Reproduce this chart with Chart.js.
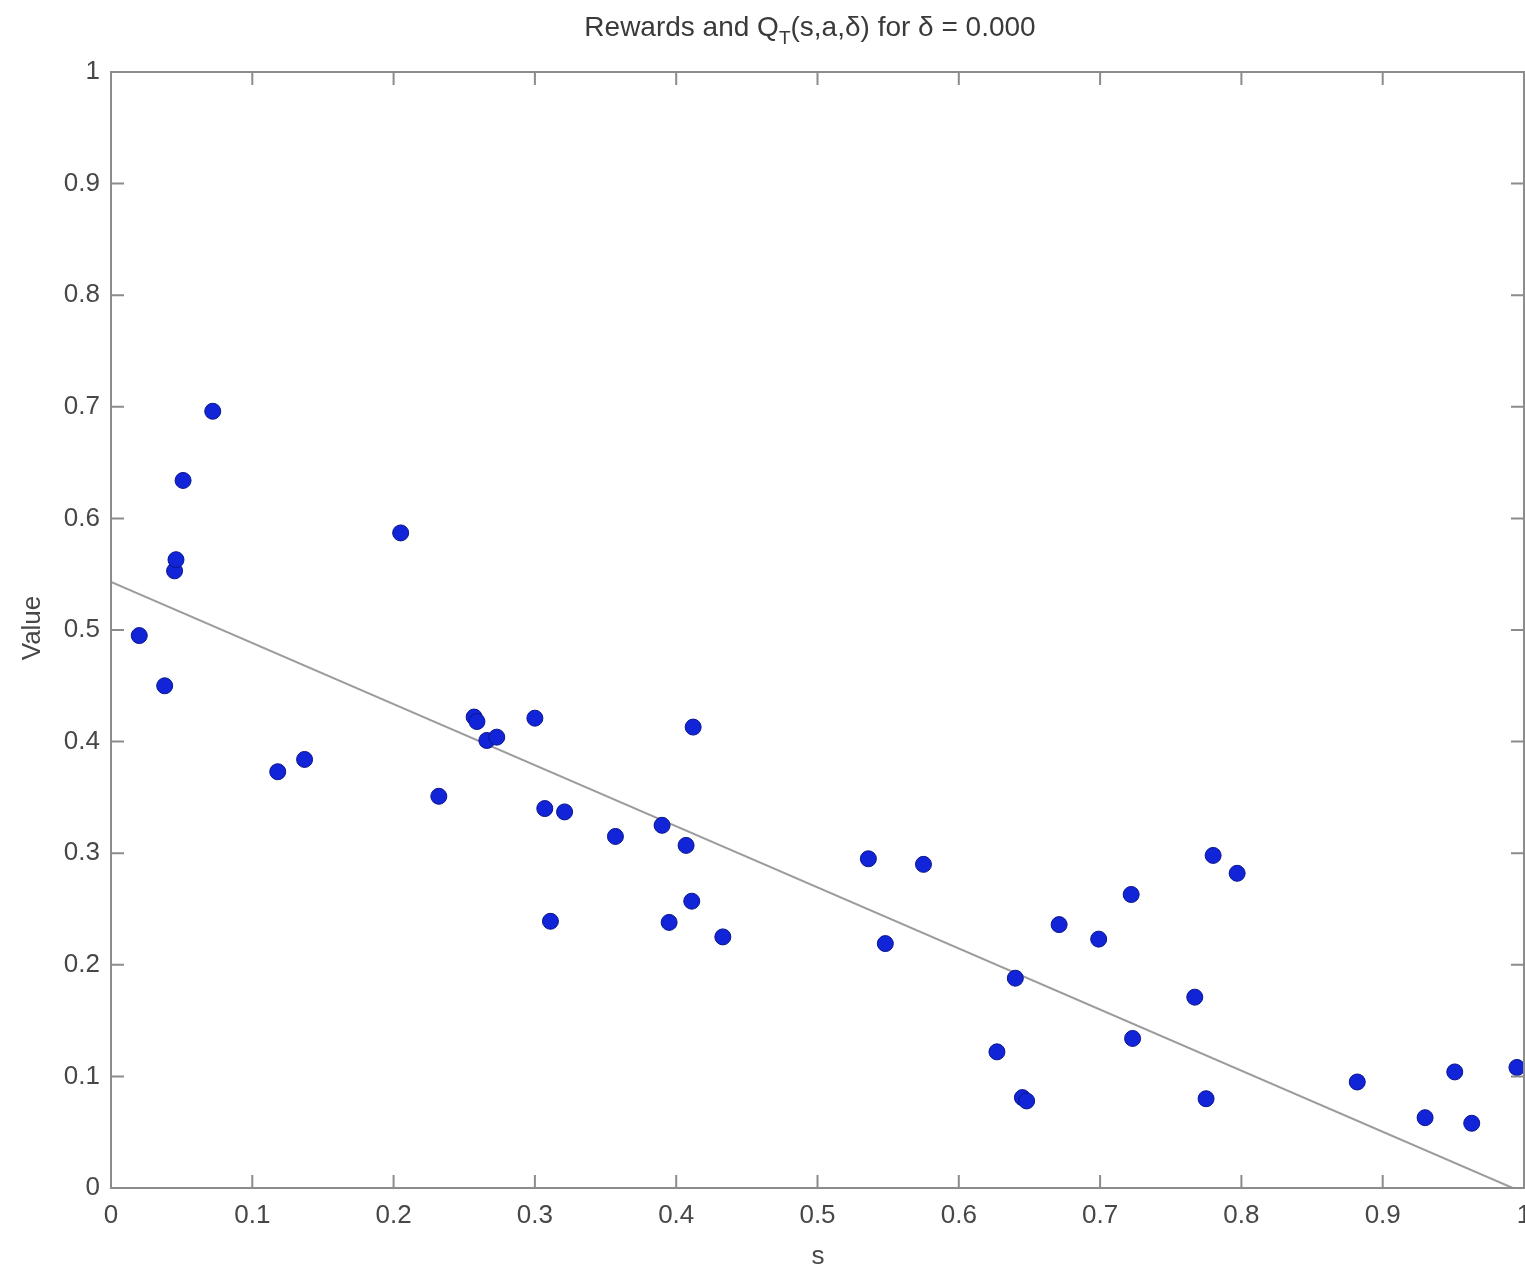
<!DOCTYPE html>
<html>
<head>
<meta charset="utf-8">
<script src="https://cdn.jsdelivr.net/npm/chart.js@4.4.1/dist/chart.umd.min.js"></script>
<style>
  html, body { margin: 0; padding: 0; background: #fff; overflow: hidden; }
  #wrap { width: 1540px; height: 1270px; }
</style>
</head>
<body>
<div id="wrap"><canvas id="c" width="1540" height="1270"></canvas></div>
<script>
// ---- data ----
const sValues = [0.020, 0.038, 0.045, 0.046, 0.051, 0.072, 0.118, 0.137, 0.205, 0.232,
                 0.257, 0.259, 0.266, 0.273, 0.300, 0.307, 0.311, 0.321, 0.357, 0.390,
                 0.395, 0.407, 0.411, 0.412, 0.433, 0.536, 0.548, 0.575, 0.627, 0.640,
                 0.645, 0.648, 0.671, 0.699, 0.722, 0.723, 0.767, 0.775, 0.780, 0.797,
                 0.882, 0.930, 0.951, 0.963, 0.995];
const rewardValues = [0.495, 0.450, 0.553, 0.563, 0.634, 0.696, 0.373, 0.384, 0.587, 0.351,
                      0.422, 0.418, 0.401, 0.404, 0.421, 0.340, 0.239, 0.337, 0.315, 0.325,
                      0.238, 0.307, 0.257, 0.413, 0.225, 0.295, 0.219, 0.290, 0.122, 0.188,
                      0.081, 0.078, 0.236, 0.223, 0.263, 0.134, 0.171, 0.080, 0.298, 0.282,
                      0.095, 0.063, 0.104, 0.058, 0.108];
const fitS = [0, 0.992];
const fitQ = [0.543, 0];
const xTickLabels = ['0','0.1','0.2','0.3','0.4','0.5','0.6','0.7','0.8','0.9','1'];
const yTickLabels = ['0','0.1','0.2','0.3','0.4','0.5','0.6','0.7','0.8','0.9','1'];
const titleParts = { before: 'Rewards and Q', sub: 'T', after: '(s,a,\u03b4) for \u03b4 = 0.000' };
const xTitle = 's';
const yTitle = 'Value';

const FONT = '"Liberation Sans", Arial, Helvetica, sans-serif';
const TEXT_COLOR = '#474747';
const AXIS_COLOR = '#8c8c8c';

const points = sValues.map((s, i) => ({ x: s, y: rewardValues[i] }));
const fitLine = fitS.map((s, i) => ({ x: s, y: fitQ[i] }));

const framePlugin = {
  id: 'frame',
  afterDatasetsDraw(chart) {
    const { ctx, chartArea: a, scales } = chart;
    ctx.save();
    ctx.strokeStyle = AXIS_COLOR;
    ctx.lineWidth = 2;
    ctx.strokeRect(a.left, a.top, a.right - a.left, a.bottom - a.top);
    const tl = 13;
    ctx.beginPath();
    xTickLabels.forEach((_, i) => {
      const px = scales.x.getPixelForValue(i / 10);
      ctx.moveTo(px, a.bottom); ctx.lineTo(px, a.bottom - tl);
      ctx.moveTo(px, a.top); ctx.lineTo(px, a.top + tl);
    });
    yTickLabels.forEach((_, i) => {
      const py = scales.y.getPixelForValue(i / 10);
      ctx.moveTo(a.left, py); ctx.lineTo(a.left + tl, py);
      ctx.moveTo(a.right, py); ctx.lineTo(a.right - tl, py);
    });
    ctx.stroke();

    // axis titles
    ctx.fillStyle = TEXT_COLOR;
    ctx.font = '26px ' + FONT;
    ctx.textAlign = 'center';
    ctx.textBaseline = 'middle';
    ctx.fillText(xTitle, 818, 1257);
    ctx.save();
    ctx.translate(33, 628);
    ctx.rotate(-Math.PI / 2);
    ctx.fillText(yTitle, 0, 0);
    ctx.restore();

    // title with subscript
    ctx.fillStyle = '#3a3a3a';
    const big = '28px ' + FONT, small = '19px ' + FONT;
    ctx.font = big;
    const w1 = ctx.measureText(titleParts.before).width;
    const w3 = ctx.measureText(titleParts.after).width;
    ctx.font = small;
    const w2 = ctx.measureText(titleParts.sub).width;
    const total = w1 + w2 + w3;
    let x = 810 - total / 2;
    const base = 36;
    ctx.textAlign = 'left';
    ctx.textBaseline = 'alphabetic';
    ctx.font = big; ctx.fillText(titleParts.before, x, base); x += w1;
    ctx.font = small; ctx.fillText(titleParts.sub, x, base + 8); x += w2;
    ctx.font = big; ctx.fillText(titleParts.after, x, base);
    ctx.restore();
  }
};

new Chart(document.getElementById('c'), {
  type: 'scatter',
  data: {
    datasets: [
      {
        label: 'Rewards',
        data: points,
        backgroundColor: '#1124d8',
        borderColor: '#0a148c',
        borderWidth: 1,
        pointRadius: 8,
        order: 0,
        clip: false
      },
      {
        type: 'line',
        label: 'Q',
        data: fitLine,
        borderColor: '#9c9c9c',
        borderWidth: 2,
        pointRadius: 0,
        fill: false,
        tension: 0,
        order: 1
      }
    ]
  },
  options: {
    responsive: false,
    devicePixelRatio: 1,
    animation: false,
    layout: { padding: { top: 72, left: 0, right: 16, bottom: 0 } },
    plugins: { legend: { display: false }, tooltip: { enabled: false }, title: { display: false } },
    scales: {
      x: {
        type: 'linear', min: 0, max: 1,
        grid: { display: false, drawTicks: false },
        border: { display: false },
        afterFit(scale) { scale.height = 82; scale.paddingLeft = 0; scale.paddingRight = 0; },
        ticks: {
          stepSize: 0.1, padding: 12, color: TEXT_COLOR, maxRotation: 0, autoSkip: false,
          font: { family: FONT, size: 26 },
          callback: (v, i) => xTickLabels[i]
        }
      },
      y: {
        type: 'linear', min: 0, max: 1,
        grid: { display: false, drawTicks: false },
        border: { display: false },
        afterFit(scale) { scale.width = 111; scale.paddingTop = 0; scale.paddingBottom = 0; },
        ticks: {
          stepSize: 0.1, padding: 11, color: TEXT_COLOR, autoSkip: false,
          font: { family: FONT, size: 26 },
          callback: (v, i) => yTickLabels[i]
        }
      }
    }
  },
  plugins: [framePlugin]
});
</script>
</body>
</html>
